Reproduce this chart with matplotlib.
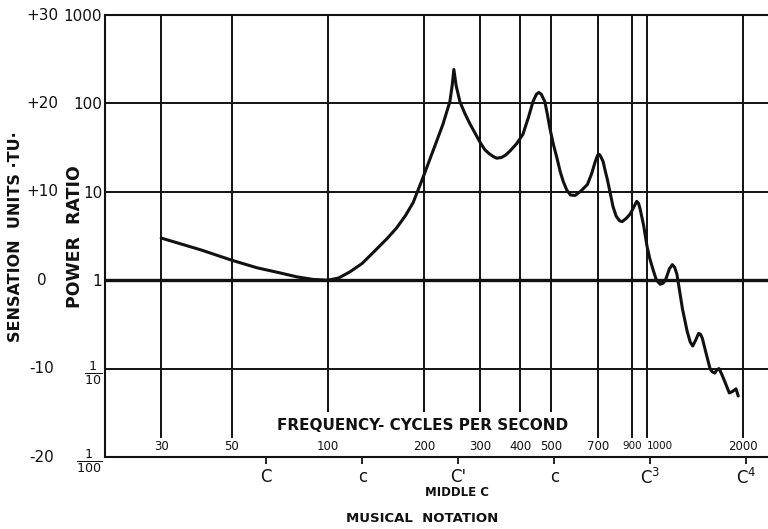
import matplotlib
matplotlib.use("Agg")
import matplotlib.pyplot as plt
from matplotlib.transforms import blended_transform_factory

# curve: frequency (cycles per second) vs power ratio
freq_hz = [30, 40, 50, 60, 70, 80, 90, 100, 108, 117, 128, 142, 153, 164,
           175, 185, 198, 213, 229, 241, 245, 248, 252, 259, 268, 279, 290,
           300, 310, 320, 330, 338, 350, 360, 371, 390, 408, 425, 439, 450,
           458, 466, 478, 487, 496, 509, 522, 534, 546, 560, 575, 595, 620,
           650, 670, 688, 700, 708, 716, 728, 740, 750, 765, 782, 800, 820,
           835, 860, 885, 910, 928, 940, 950, 975, 1000, 1020, 1045, 1070,
           1100, 1125, 1145, 1175, 1200, 1220, 1240, 1265, 1290, 1335, 1365,
           1390, 1420, 1450, 1470, 1490, 1530, 1575, 1600, 1630, 1655, 1680,
           1710, 1750, 1810, 1850, 1900, 1930]
power_ratio = [3.0, 2.2, 1.68, 1.38, 1.22, 1.09, 1.02, 1.0, 1.06, 1.24, 1.55,
               2.25, 2.95, 3.9, 5.4, 7.6, 14.2, 28.6, 57.6, 105, 160, 242, 160,
               105, 78, 58, 45, 36, 30, 27, 25, 24, 24.5, 26, 28.7, 35, 44.6,
               70, 105, 127, 133, 127, 105, 75, 52, 34, 24, 17, 13.1, 10.5,
               9.2, 9.1, 10.2, 12.1, 16, 22, 26, 26.5, 25, 22, 17, 14, 10,
               6.8, 5.3, 4.7, 4.6, 5.0, 5.6, 6.8, 7.8, 7.4, 6.5, 4.2, 2.4,
               1.75, 1.3, 1.0, 0.9, 0.93, 1.03, 1.35, 1.5, 1.4, 1.17, 0.75,
               0.48, 0.265, 0.2, 0.18, 0.21, 0.25, 0.245, 0.22, 0.15, 0.1,
               0.092, 0.089, 0.097, 0.10, 0.088, 0.072, 0.053, 0.055, 0.059,
               0.049]

grid_freqs = [30, 50, 100, 200, 300, 400, 500, 700, 900, 1000, 2000]
grid_labels = ["30", "50", "100", "200", "300", "400", "500", "700", "900", "1000", "2000"]

ratio_ticks = [0.01, 0.1, 1, 10, 100, 1000]
ratio_labels = [r"$\frac{1}{100}$", r"$\frac{1}{10}$", "1", "10", "100", "1000"]

sensation_tu = [30, 20, 10, 0, -10, -20]
sensation_labels = ["+30", "+20", "+10", "0", "-10", "-20"]

note_freqs = [64, 128, 256, 512, 1024, 2048]
note_labels = ["C", "c", "C'", "c", "C$^3$", "C$^4$"]

fig = plt.figure(figsize=(7.68, 5.29), dpi=100)
ax = fig.add_axes([0.1367, 0.1361, 0.8633, 0.8355])
ax.set_xscale("log")
ax.set_yscale("log")
ax.set_xlim(20, 2393)
ax.set_ylim(0.01, 1000)

ink = "#111111"
for s in ["left", "bottom", "top"]:
    ax.spines[s].set_linewidth(1.5)
    ax.spines[s].set_color(ink)
ax.spines["right"].set_visible(False)

# grid
for f in grid_freqs:
    ax.axvline(f, ymin=0.045, ymax=1, color=ink, lw=1.4)
for r in [0.1, 10, 100]:
    ax.axhline(r, color=ink, lw=1.4)
ax.axhline(1, color=ink, lw=2.4)

ax.plot(freq_hz, power_ratio, color=ink, lw=2.2, solid_joinstyle="round", solid_capstyle="round")

# y axis: power ratio
ax.set_yticks(ratio_ticks, labels=ratio_labels)
ax.minorticks_off()
ax.tick_params(axis="y", length=0, pad=2, labelsize=11, colors=ink)
for t in ax.get_yticklabels():
    if "frac" in t.get_text():
        t.set_fontsize(13)

# x axis: musical notation
ax.set_xticks(note_freqs, labels=note_labels)
ax.tick_params(axis="x", direction="out", length=5, width=1.3, pad=3, labelsize=12, colors=ink)
ax.minorticks_off()

# frequency labels inside the plot
xt = ax.get_xaxis_transform()
for f, lab in zip(grid_freqs, grid_labels):
    ha = "left" if lab == "1000" else "center"
    size = 7.5 if lab in ("900", "1000") else 8.5
    ax.text(f, 0.024, lab, transform=xt, ha=ha, va="center", fontsize=size, color=ink)

# sensation units on the far left
bt = blended_transform_factory(fig.transFigure, ax.transData)
for tu, lab in zip(sensation_tu, sensation_labels):
    ax.text(42 / 768, 10 ** (tu / 10), lab, transform=bt, ha="center", va="center",
            fontsize=11, color=ink, clip_on=False)

fig.text(16 / 768, 1 - 237 / 529, "SENSATION  UNITS ·TU·", rotation=90, ha="center",
         va="center", fontsize=11.5, fontweight="bold", color=ink)
fig.text(75 / 768, 1 - 237 / 529, "POWER  RATIO", rotation=90, ha="center",
         va="center", fontsize=12.5, fontweight="bold", color=ink)

fig.text(423 / 768, 1 - 425 / 529, "FREQUENCY- CYCLES PER SECOND", ha="center", va="center",
         fontsize=11, fontweight="bold", color=ink, zorder=5,
         bbox=dict(boxstyle="square,pad=0.35", fc="white", ec="none"))
fig.text(457 / 768, 1 - 493 / 529, "MIDDLE C", ha="center", va="center", fontsize=8.5,
         fontweight="bold", color=ink)
fig.text(422 / 768, 1 - 518 / 529, "MUSICAL  NOTATION", ha="center", va="center",
         fontsize=9.5, fontweight="bold", color=ink)

fig.savefig("out.png", dpi=100)
